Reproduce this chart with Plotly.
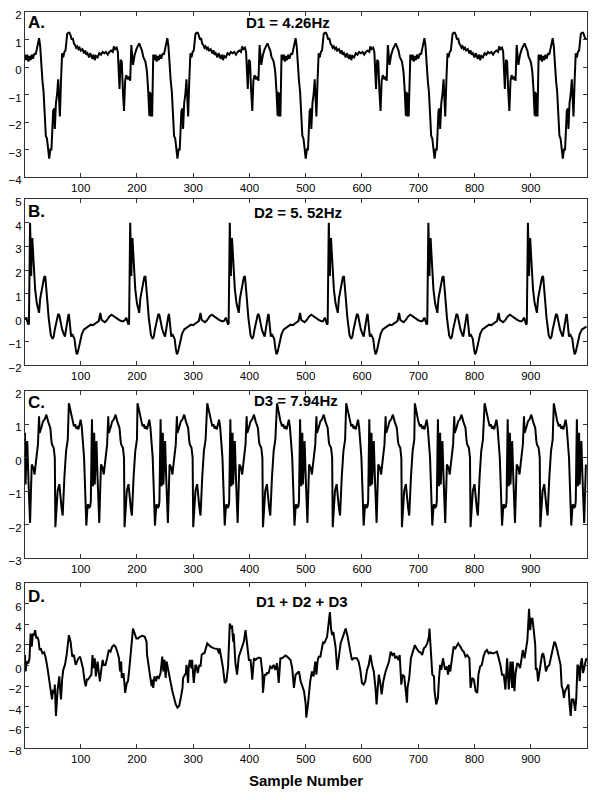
import plotly.graph_objects as go

FONT = "Liberation Sans, Arial, sans-serif"

sample_range = [1, 1000]
x_ticks = [100, 200, 300, 400, 500, 600, 700, 800, 900]

# D1 = 4.26Hz : one cycle (offset within cycle, value) + cycle start samples
d1_offset = [1, 3, 5, 7, 9, 11, 13, 15, 18, 20, 23, 26, 28, 30, 32, 34, 36, 38, 40, 42,
             44, 46, 48, 50, 51, 53, 54, 56, 58, 60, 62, 63, 65, 67, 69, 71, 73, 76, 78, 80,
             82, 84, 86, 88, 90, 92, 94, 96, 98, 100, 103, 106, 108, 110, 112, 115, 117, 119, 121, 123,
             125, 127, 130, 133, 136, 139, 142, 145, 148, 151, 154, 157, 159, 161, 164, 166, 168, 169, 171, 173,
             175, 177, 179, 181, 184, 186, 188, 190, 193, 196, 199, 201, 204, 206, 209, 211, 213, 215, 217, 218,
             220, 222, 223, 224, 226, 227]
d1_value = [0.45, 0.25, 0.45, 0.2, 0.4, 0.25, 0.45, 0.3, 0.5, 0.45, 0.75, 1.05, 0.75, 0.0, -0.5, -0.9, -1.8, -2.5, -2.6, -2.9,
            -3.33, -3.0, -3.0, -2.1, -1.6, -1.5, -2.25, -1.3, -1.0, -0.45, -1.1, -1.8, -0.5, 0.5, 0.35, 0.55, 0.6, 1.2, 1.25, 1.25,
            1.15, 1.0, 1.05, 0.85, 0.8, 0.7, 0.75, 0.65, 0.7, 0.6, 0.65, 0.5, 0.6, 0.45, 0.5, 0.35, 0.5, 0.4, 0.3, 0.45,
            0.25, 0.4, 0.35, 0.5, 0.45, 0.55, 0.5, 0.55, 0.45, 0.55, 0.6, 0.55, 0.75, 0.65, 0.7, 0.55, -0.33, -0.8, 0.26, 0.2,
            -0.87, -1.6, -0.5, -0.3, -0.45, -0.35, -0.5, 0.8, 0.08, 0.45, 0.65, 0.74, 0.86, 0.75, 0.6, 0.38, 0.3, 0.2, -0.05, -0.22,
            -0.87, -1.77, -0.9, -1.8, -0.95, -1.8]
d1_start = [0, 228, 456, 685, 913]

# D2 = 5.52Hz : offsets relative to the tall spike
d2_offset = [-9, -7, -5, -3, -2, 0, 1, 2, 3, 4, 5, 7, 9, 12, 14, 16, 18, 20, 23, 25,
             27, 29, 31, 33, 35, 37, 40, 42, 44, 47, 50, 52, 54, 57, 60, 62, 64, 66, 68, 69,
             71, 73, 75, 77, 79, 81, 83, 85, 88, 92, 96, 100, 104, 108, 112, 115, 119, 122, 125, 127,
             130, 133, 137, 141, 145, 149, 153, 158, 163, 166]
d2_value = [-0.1, 0.0, -0.15, -0.3, -0.25, 4.0, 3.0, 1.75, 2.9, 3.35, 2.9, 2.0, 1.2, 0.6, 0.3, 0.2, 0.8, 1.1, 1.4, 1.7,
            1.75, 1.3, 0.6, 0.0, -0.4, -0.75, -0.9, -0.8, -0.5, -0.1, 0.15, 0.1, -0.2, -0.5, -0.7, -0.8, -0.5, -0.1, 0.1, 0.15,
            -0.3, -0.8, -0.7, -0.85, -0.9, -1.3, -1.55, -1.45, -1.1, -0.7, -0.5, -0.42, -0.38, -0.3, -0.32, -0.25, -0.2, -0.15, 0.2, -0.1,
            -0.15, -0.2, -0.1, 0.05, 0.12, 0.05, -0.05, -0.1, -0.15, -0.15]
d2_start = [10, 188, 365, 541, 718, 895]

# D3 = 7.94Hz : offsets relative to the 1.6 peak
d3_offset = [0, 2, 4, 6, 9, 11, 13, 15, 17, 19, 21, 23, 24, 26, 27, 29, 31, 33, 34, 36,
             38, 39, 41, 43, 45, 46, 47, 49, 51, 54, 57, 60, 62, 64, 66, 68, 70, 71, 74, 77,
             80, 83, 86, 88, 90, 92, 93, 96, 98, 99, 101, 103, 106, 108, 110, 112, 114, 115, 118, 120,
             121]
d3_value = [1.63, 1.45, 1.3, 1.1, 0.94, 1.0, 0.88, 0.92, 0.85, 1.0, 1.14, 0.9, 0.7, 0.4, 0.0, -1.0, -2.03, -1.5, -1.39, -1.5,
            -1.45, -1.3, 1.15, -0.85, 0.75, -0.8, -0.2, 0.5, -0.6, -1.95, -0.2, -0.3, -0.5, -0.2, 0.2, 0.4, 1.24, 0.74, 0.9, 1.09,
            1.15, 1.29, 1.09, 1.0, 0.89, 0.5, 0.4, 0.3, 0.0, -2.08, -1.3, -0.99, -0.79, -1.2, -1.5, -1.73, -0.9, -0.59, 0.2, 0.5,
            0.54]
d3_start = [-44, 79, 201, 325, 449, 572, 694, 818, 941]

# D1 + D2 + D3
d4_x = [1, 2, 4, 7, 9, 11, 13, 15, 17, 19, 21, 23, 25, 27, 29, 32, 35, 38, 41, 44,
        47, 49, 51, 53, 54, 56, 59, 62, 63, 65, 67, 69, 72, 75, 79, 82, 85, 88, 91, 93,
        96, 99, 101, 104, 107, 109, 111, 113, 117, 119, 121, 123, 125, 127, 130, 132, 134, 137, 139, 141,
        144, 147, 150, 153, 156, 159, 162, 165, 168, 170, 172, 173, 176, 178, 179, 182, 184, 186, 188, 190,
        193, 196, 199, 202, 205, 210, 214, 217, 218, 221, 223, 226, 227, 229, 231, 234, 236, 239, 242, 245,
        247, 249, 251, 253, 255, 257, 260, 263, 266, 269, 272, 275, 278, 281, 282, 285, 287, 288, 291, 292,
        294, 297, 298, 301, 304, 306, 308, 311, 313, 315, 318, 320, 323, 325, 331, 337, 343, 346, 347, 350,
        353, 356, 359, 362, 364, 365, 368, 369, 371, 372, 375, 378, 381, 384, 387, 390, 393, 396, 399, 402,
        405, 408, 411, 414, 417, 420, 423, 424, 427, 430, 431, 434, 437, 440, 443, 446, 449, 452, 455, 458,
        461, 464, 467, 470, 473, 476, 479, 482, 485, 488, 491, 494, 497, 500, 501, 504, 505, 508, 511, 514,
        517, 519, 521, 523, 526, 529, 531, 533, 536, 538, 541, 543, 545, 547, 549, 551, 553, 556, 559, 562,
        565, 568, 571, 574, 577, 580, 582, 585, 588, 591, 594, 597, 600, 603, 606, 609, 612, 615, 618, 621,
        624, 626, 628, 630, 633, 635, 638, 640, 642, 645, 648, 651, 654, 657, 659, 662, 665, 667, 670, 672,
        675, 677, 680, 681, 684, 687, 689, 692, 694, 697, 699, 701, 704, 707, 710, 713, 716, 719, 720, 722,
        723, 725, 728, 729, 732, 735, 737, 739, 741, 744, 746, 748, 751, 753, 755, 757, 760, 763, 766, 769,
        771, 775, 778, 781, 784, 787, 790, 791, 793, 796, 799, 802, 805, 807, 810, 813, 816, 819, 822, 825,
        828, 831, 834, 837, 840, 843, 846, 849, 852, 855, 858, 861, 864, 867, 868, 871, 873, 876, 879, 881,
        884, 886, 889, 892, 894, 897, 899, 901, 903, 905, 908, 909, 911, 913, 915, 917, 920, 922, 924, 927,
        930, 933, 936, 940, 942, 944, 947, 950, 953, 955, 957, 959, 961, 964, 967, 969, 971, 973, 976, 979,
        981, 983, 985, 987, 989, 991, 993, 995, 998, 1000]
d4_y = [1.02, -0.58, 0.38, 0.22, 0.70, 3.10, 1.82, 3.10, 2.94, 3.42, 2.62, 2.78, 2.46, 1.50, 1.66, 1.18, 1.28, 0.70, -0.26, -1.53,
        -2.49, -3.29, -2.33, -2.65, -1.85, -4.89, -2.33, -1.05, -2.01, -3.29, -1.37, -0.42, 0.06, 1.02, 2.94, 2.30, 0.86, 1.02, 0.06, 0.38,
        0.70, 0.86, 0.38, -0.26, -1.53, -2.01, -1.37, -1.37, -1.05, -0.89, 1.02, -0.26, 0.70, -1.05, 0.38, -0.73, -1.53, -0.26, 0.54, 0.06,
        0.06, 0.70, 1.50, 1.34, 1.82, 1.98, 1.82, 1.34, 0.70, -0.58, 0.38, -1.21, -0.73, -1.85, -2.65, -1.69, -1.53, -0.58, 0.70, 2.14,
        3.58, 3.10, 2.62, 2.62, 2.78, 2.88, 2.78, 2.30, 1.02, -0.10, -0.73, -2.01, -1.37, -2.17, -1.05, -1.53, -1.05, -1.21, -0.73, 0.86,
        -0.58, 0.54, -1.21, 0.38, -0.26, -0.73, -1.69, -2.49, -3.13, -3.77, -4.09, -3.93, -3.13, -2.17, -1.21, -0.89, -0.73, 0.06, -1.69, -0.26,
        0.54, -0.26, 0.54, -1.69, 0.06, -0.10, -0.73, 0.06, -0.10, 1.02, 1.18, 1.18, 1.66, 2.14, 1.82, 1.66, 1.60, 1.18, 1.66, 0.70,
        -0.26, -1.69, -1.53, -0.10, 2.30, 4.06, 3.58, 3.90, 2.30, 3.10, 0.22, -0.89, 0.86, 1.34, 1.82, 2.30, 3.42, 1.82, 0.54, 0.54,
        -1.37, 0.70, 0.54, 0.70, 0.77, 0.70, -0.73, -2.65, -0.89, -0.89, -0.73, -0.73, -0.10, -0.26, 0.06, -0.42, 0.22, -1.69, 0.70, 0.70,
        0.86, 0.96, 0.86, 0.70, 0.54, -0.26, -2.17, -0.89, -0.73, -0.58, -1.53, -2.01, -2.49, -3.77, -5.05, -3.77, -3.13, -1.53, -0.58, -1.05,
        0.38, -0.89, 0.38, 0.86, 0.86, 1.66, 2.30, 2.14, 2.46, 2.78, 4.22, 5.18, 3.58, 2.94, 3.26, 2.30, 1.82, -0.42, 1.02, 2.14,
        2.62, 3.10, 3.58, 2.94, 1.98, 0.86, 0.54, 0.70, 0.70, 0.70, 0.38, -0.42, -1.69, -1.85, -1.53, -0.42, 0.06, 1.02, 0.06, -0.58,
        -2.17, -3.77, -2.17, -0.89, -1.85, -2.81, -1.53, -0.89, -0.58, -0.10, 0.38, 1.34, 1.02, 1.18, 0.70, 0.86, 0.54, 1.02, -1.85, -0.89,
        -1.05, -2.01, -3.61, -2.17, -1.21, 0.70, 1.02, 1.50, 1.98, 1.66, 1.41, 1.34, 1.28, 1.02, 1.66, 1.82, 2.14, 2.78, 3.58, 1.66,
        0.38, -0.89, -1.05, -2.49, -3.77, -3.13, -1.21, 0.06, -0.42, 0.70, 0.06, -0.42, -0.10, -0.89, 0.06, -0.58, 0.70, 1.82, 1.66, 1.98,
        2.14, 1.82, 1.50, 1.34, 0.86, 1.02, 0.70, 0.70, -2.17, -1.21, -1.37, -2.49, -2.65, -0.89, -0.10, 0.06, 0.86, 1.34, 1.50, 1.18,
        1.28, 1.18, 1.18, 1.28, 1.34, 0.70, 0.06, -0.89, -0.89, -2.33, 0.70, -2.33, 0.38, -2.17, 0.38, -2.49, -0.73, 0.22, 0.06, -0.26,
        1.02, 1.50, 0.70, 1.98, 2.46, 5.50, 3.42, 4.54, 4.54, 3.58, 1.98, -0.42, -0.26, -1.53, -0.73, 0.06, 1.02, 1.18, 0.70, -0.58,
        -0.10, 0.06, 0.70, 1.82, 2.30, 2.14, 1.50, 0.86, 0.06, -2.01, -2.33, -3.13, -2.49, -2.17, -1.85, -3.77, -4.89, -3.29, -3.29, -4.41,
        -3.13, 0.06, -0.10, -1.53, 0.22, 0.70, -0.73, -0.26, 0.54, 0.70]


def tile(offsets, values, starts):
    xs, ys = [], []
    for s0 in starts:
        for r, v in zip(offsets, values):
            s = s0 + r
            if sample_range[0] <= s <= sample_range[1]:
                xs.append(s)
                ys.append(v)
    return xs, ys


d1_x, d1_y = tile(d1_offset, d1_value, d1_start)
d2_x, d2_y = tile(d2_offset, d2_value, d2_start)
d3_x, d3_y = tile(d3_offset, d3_value, d3_start)

panels = [
    dict(x=d1_x, y=d1_y, yrange=[-4, 2], dtick=1, dom=[0.7758, 1.0], letter="A.", title="D1 = 4.26Hz",
         ly=0.9857, tx=0.468, ty=0.9864),
    dict(x=d2_x, y=d2_y, yrange=[-2, 5], dtick=1, dom=[0.5204, 0.7459], letter="B.", title="D2 = 5. 52Hz",
         ly=0.7289, tx=0.486, ty=0.7276),
    dict(x=d3_x, y=d3_y, yrange=[-3, 2], dtick=1, dom=[0.2582, 0.4851], letter="C.", title="D3 = 7.94Hz",
         ly=0.4694, tx=0.482, ty=0.4728),
    dict(x=d4_x, y=d4_y, yrange=[-8, 8], dtick=2, dom=[0.0, 0.2242], letter="D.", title="D1 + D2 + D3",
         ly=0.2065, tx=0.493, ty=0.1984),
]

fig = go.Figure()
annotations = []
axis_style = dict(showline=True, linecolor="#333", linewidth=1, mirror="ticks", ticks="inside",
                  ticklen=4, tickcolor="#333", showgrid=False, zeroline=False, automargin=False,
                  ticklabeloverflow="allow", tickfont=dict(family=FONT, size=11.5, color="black"))

for i, p in enumerate(panels, start=1):
    sfx = "" if i == 1 else str(i)
    fig.add_trace(go.Scatter(x=p["x"], y=p["y"], mode="lines", line=dict(color="black", width=2),
                             xaxis="x" + sfx, yaxis="y" + sfx, showlegend=False))
    fig.update_layout({
        "xaxis" + sfx: dict(domain=[0, 1], anchor="y" + sfx, range=sample_range, tickvals=x_ticks, **axis_style),
        "yaxis" + sfx: dict(domain=p["dom"], anchor="x" + sfx, range=p["yrange"], dtick=p["dtick"],
                            ticklabelshift=3, **axis_style),
    })
    annotations.append(dict(text="<b>" + p["letter"] + "</b>", x=0.002, y=p["ly"], xref="paper", yref="paper",
                            xanchor="left", yanchor="middle", showarrow=False,
                            font=dict(family=FONT, size=17, color="black")))
    annotations.append(dict(text="<b>" + p["title"] + "</b>", x=p["tx"], y=p["ty"], xref="paper", yref="paper",
                            xanchor="center", yanchor="middle", showarrow=False,
                            font=dict(family=FONT, size=15, color="black")))

annotations.append(dict(text="<b>Sample Number</b>", x=0.5, y=-0.0435, xref="paper", yref="paper",
                        xanchor="center", yanchor="middle", showarrow=False,
                        font=dict(family=FONT, size=15, color="black")))

# page body keeps an 8px margin, so the figure is 16px smaller than the window
fig.update_layout(width=584, height=784, margin=dict(l=17, r=5, t=4, b=44),
                  plot_bgcolor="white", paper_bgcolor="white", annotations=annotations)

fig.write_html("out.html")
